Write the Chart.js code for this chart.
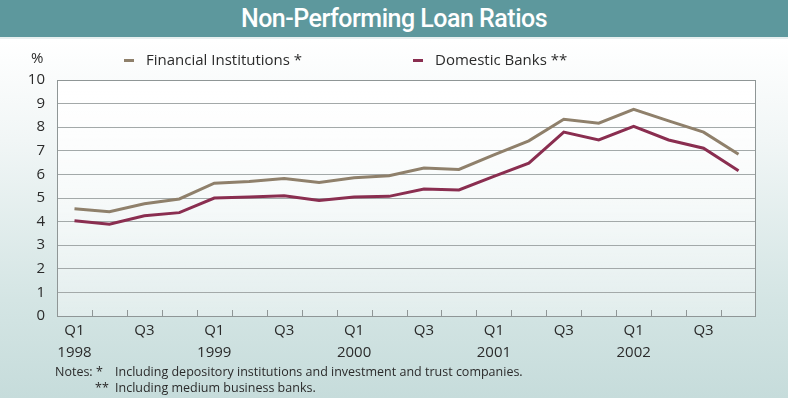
<!DOCTYPE html>
<html>
<head>
<meta charset="utf-8">
<script src="https://cdn.jsdelivr.net/npm/chart.js@4"></script>
<style>
  html, body { margin: 0; padding: 0; }
  body {
    width: 788px; height: 398px; position: relative; overflow: hidden;
    background: linear-gradient(to bottom, #ffffff 40px, #f1f6f6 140px, #d4e5e4 300px, #c6dcdb 398px);
    font-family: "Open Sans", Lato, sans-serif; color: #2b2b2b;
  }
  #titre {
    position: absolute; left: 0; top: 0; width: 788px; height: 37px;
    background: #5d989d; color: #fff; text-align: center;
    font: 500 25px/37px Roboto, sans-serif; letter-spacing: -0.5px;
    border-bottom: 2px solid #e8f0f0;
  }
  #grafico { position: absolute; left: 0; top: 0; }
  .txt { position: absolute; white-space: nowrap; }
  .leg { font-size: 15px; top: 49px; }
  .marca { position: absolute; width: 10px; height: 3px; top: 59px; }
  .nota { font-size: 12.5px; }
</style>
</head>
<body>
<canvas id="grafico" width="788" height="398"></canvas>
<div id="titre">Non-Performing Loan Ratios</div>
<div class="txt" style="left:31px;top:47px;font-size:15px;">%</div>
<div class="marca" style="left:124px;background:#8f806b;"></div>
<div class="txt leg" style="left:146px;">Financial Institutions *</div>
<div class="marca" style="left:413px;background:#8a2e50;"></div>
<div class="txt leg" style="left:435px;">Domestic Banks **</div>
<div class="txt nota" style="left:55px;top:363px;">Notes: *</div>
<div class="txt nota" style="left:115px;top:363px;">Including depository institutions and investment and trust companies.</div>
<div class="txt nota" style="left:95px;top:379px;">**</div>
<div class="txt nota" style="left:115px;top:379px;">Including medium business banks.</div>
<script>
// Trimestres 1998 Q1 a 2002 Q4
const trimestres = [
    'Q1 1998', 'Q2 1998', 'Q3 1998', 'Q4 1998',
    'Q1 1999', 'Q2 1999', 'Q3 1999', 'Q4 1999',
    'Q1 2000', 'Q2 2000', 'Q3 2000', 'Q4 2000',
    'Q1 2001', 'Q2 2001', 'Q3 2001', 'Q4 2001',
    'Q1 2002', 'Q2 2002', 'Q3 2002', 'Q4 2002'
];
const financialInstitutions = [
    4.54, 4.42, 4.76, 4.96, 5.63, 5.70, 5.83, 5.66, 5.86, 5.94,
    6.27, 6.21, 6.83, 7.42, 8.34, 8.17, 8.76, 8.27, 7.79, 6.85
];
const domesticBanks = [
    4.04, 3.89, 4.25, 4.38, 5.00, 5.04, 5.10, 4.89, 5.04, 5.07,
    5.38, 5.34, 5.92, 6.48, 7.79, 7.46, 8.04, 7.46, 7.11, 6.15
];
const yTicks = [0, 1, 2, 3, 4, 5, 6, 7, 8, 9, 10];

const corGrade = '#a3a9a9';

// fundo e moldura da área do gráfico + marcas do eixo x
const molduraPlugin = {
    id: 'moldura',
    beforeDraw(chart) {
        const { ctx, chartArea: a } = chart;
        const g = ctx.createLinearGradient(0, a.top, 0, a.bottom);
        g.addColorStop(0, 'rgba(255,255,255,0.95)');
        g.addColorStop(1, 'rgba(255,255,255,0.35)');
        ctx.save();
        ctx.fillStyle = g;
        ctx.fillRect(a.left, a.top, a.right - a.left, a.bottom - a.top);
        ctx.restore();
    },
    afterDatasetsDraw(chart) {
        const { ctx, chartArea: a, scales } = chart;
        const x = scales.x;
        ctx.save();
        ctx.strokeStyle = '#8f9696';
        ctx.lineWidth = 1;
        ctx.beginPath();
        for (let i = 1; i < trimestres.length; i++) {
            const px = Math.round((x.getPixelForValue(i - 1) + x.getPixelForValue(i)) / 2) + 0.5;
            ctx.moveTo(px, a.bottom);
            ctx.lineTo(px, a.bottom - 6);
        }
        ctx.stroke();
        ctx.strokeRect(a.left + 0.5, a.top + 0.5, a.right - a.left - 1, a.bottom - a.top);
        ctx.restore();
    }
};

new Chart(document.getElementById('grafico'), {
    type: 'line',
    data: {
        labels: trimestres,
        datasets: [{
            label: 'Financial Institutions *',
            data: financialInstitutions,
            borderColor: '#8f806b',
            borderWidth: 3,
            pointRadius: 0,
            tension: 0
        }, {
            label: 'Domestic Banks **',
            data: domesticBanks,
            borderColor: '#8a2e50',
            borderWidth: 3,
            pointRadius: 0,
            tension: 0
        }]
    },
    options: {
        responsive: false,
        animation: false,
        layout: { padding: { top: 80, right: 32, left: 0, bottom: 0 } },
        plugins: {
            legend: { display: false },
            tooltip: { enabled: false }
        },
        scales: {
            x: {
                offset: true,
                grid: { display: false },
                border: { display: false },
                ticks: {
                    autoSkip: false,
                    maxRotation: 0,
                    padding: -4,
                    color: '#2b2b2b',
                    font: { family: 'Open Sans', size: 15, lineHeight: 1.45 },
                    callback: function (v, i) {
                        const [q, ano] = trimestres[i].split(' ');
                        if (q === 'Q1') return [q, ano];
                        if (q === 'Q3') return [q, ''];
                        return '';
                    }
                },
                afterFit(scale) { scale.height = 82; }
            },
            y: {
                min: 0,
                max: 10,
                afterBuildTicks(scale) { scale.ticks = yTicks.map(v => ({ value: v })); },
                grid: { color: corGrade, drawTicks: false },
                border: { display: true, color: '#8f9696' },
                ticks: {
                    padding: 12,
                    color: '#2b2b2b',
                    font: { family: 'Open Sans', size: 15 }
                },
                afterFit(scale) { scale.width = 57; }
            }
        }
    },
    plugins: [molduraPlugin]
});
</script>
</body>
</html>
